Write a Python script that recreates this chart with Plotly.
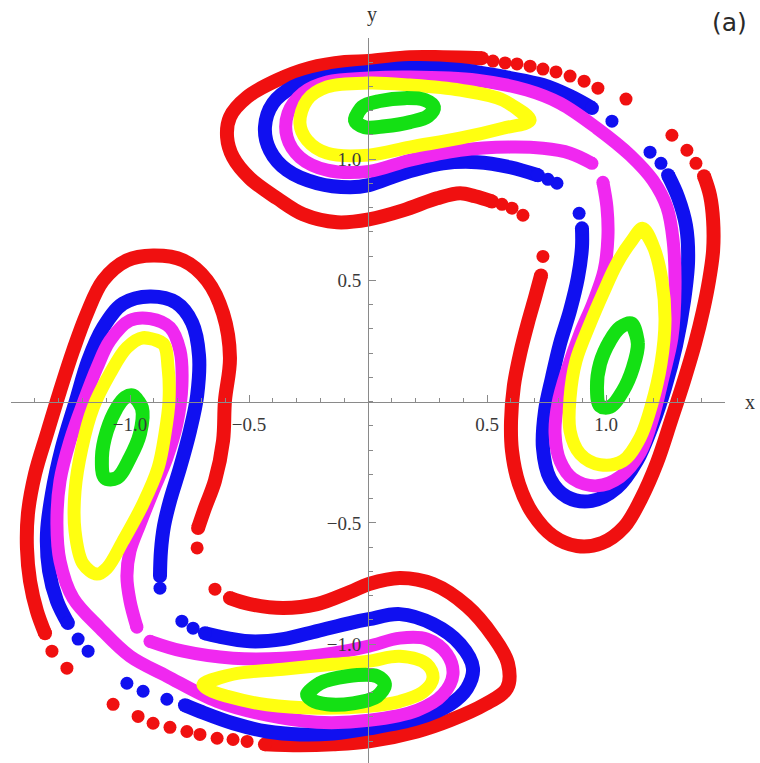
import plotly.graph_objects as go

# ---------------- axis settings ----------------
X_RANGE = [-1.5, 1.5]
Y_RANGE = [-1.49, 1.5]
TICK_VALS = [-1.0, -0.5, 0.5, 1.0]
TICK_TEXT = ["\u22121.0", "\u22120.5", "0.5", "1.0"]

RED = "#f01010"
BLUE = "#1010f0"
MAGENTA = "#f028f0"
YELLOW = "#ffff10"
GREEN = "#14e014"

# ---------------- upper / right chain ----------------
red_tr_arm_x = [1.412, 1.437, 1.450, 1.450, 1.433, 1.408, 1.374, 1.328, 1.273, 1.214, 1.147, 1.076, 0.983, 0.878, 0.777, 0.693, 0.634, 0.605, 0.601, 0.613, 0.639, 0.672, 0.702, 0.727]
red_tr_arm_y = [0.930, 0.851, 0.748, 0.624, 0.500, 0.376, 0.240, 0.087, -0.079, -0.252, -0.401, -0.517, -0.583, -0.595, -0.554, -0.463, -0.339, -0.202, -0.079, 0.066, 0.198, 0.326, 0.430, 0.521]
red_tr_arc_x = [0.521, 0.450, 0.387, 0.290, 0.147, 0.004, -0.130, -0.273, -0.382, -0.496, -0.567, -0.592, -0.580, -0.508, -0.382, -0.244, -0.097, 0.004, 0.176, 0.315, 0.479]
red_tr_arc_y = [0.826, 0.847, 0.860, 0.839, 0.789, 0.752, 0.740, 0.773, 0.839, 0.921, 1.008, 1.091, 1.174, 1.256, 1.326, 1.376, 1.401, 1.405, 1.421, 1.421, 1.417]
red_tr_dots_x = [0.525, 0.576, 0.626, 0.681, 0.735, 0.790, 0.849, 0.908, 0.966, 1.084, 1.277, 1.340, 1.378, 0.735, 0.651, 0.605, 0.563]
red_tr_dots_y = [1.405, 1.397, 1.393, 1.384, 1.372, 1.360, 1.343, 1.322, 1.293, 1.248, 1.099, 1.037, 0.983, 0.599, 0.769, 0.798, 0.814]

blue_tr_arm_x = [1.261, 1.303, 1.336, 1.345, 1.328, 1.294, 1.248, 1.197, 1.130, 1.046, 0.941, 0.836, 0.765, 0.735, 0.744, 0.773, 0.807, 0.849, 0.882, 0.899, 0.899]
blue_tr_arm_y = [0.934, 0.843, 0.727, 0.583, 0.417, 0.231, 0.058, -0.091, -0.244, -0.355, -0.409, -0.393, -0.318, -0.190, -0.037, 0.099, 0.240, 0.376, 0.512, 0.636, 0.715]
blue_tr_arc_x = [0.714, 0.597, 0.458, 0.315, 0.147, 0.004, -0.076, -0.214, -0.340, -0.412, -0.433, -0.399, -0.315, -0.172, 0.004, 0.176, 0.387, 0.597, 0.735, 0.849, 0.941]
blue_tr_arc_y = [0.934, 0.967, 0.988, 0.983, 0.942, 0.893, 0.884, 0.901, 0.955, 1.037, 1.132, 1.231, 1.298, 1.339, 1.360, 1.376, 1.368, 1.335, 1.306, 1.260, 1.211]
blue_tr_dots_x = [1.025, 1.185, 1.231, 0.887, 0.794, 0.756]
blue_tr_dots_y = [1.157, 1.029, 0.983, 0.777, 0.901, 0.917]

magenta_tr_x = [0.941, 0.849, 0.735, 0.597, 0.387, 0.176, 0.004, -0.172, -0.286, -0.340, -0.336, -0.273, -0.172, 0.004, 0.176, 0.458, 0.668, 0.807, 0.962, 1.101, 1.197, 1.256, 1.282, 1.290, 1.277, 1.239, 1.197, 1.143, 1.059, 0.962, 0.861, 0.807, 0.786, 0.798, 0.836, 0.891, 0.945, 0.992, 1.008, 1.004, 0.987]
magenta_tr_y = [0.983, 1.025, 1.045, 1.050, 1.037, 0.996, 0.950, 0.955, 1.008, 1.091, 1.190, 1.273, 1.318, 1.335, 1.339, 1.326, 1.285, 1.231, 1.128, 1.017, 0.913, 0.802, 0.665, 0.471, 0.264, 0.099, -0.066, -0.211, -0.310, -0.347, -0.318, -0.244, -0.132, -0.008, 0.128, 0.281, 0.405, 0.541, 0.678, 0.802, 0.905]

yellow_top_x = [0.681, 0.567, 0.387, 0.176, 0.004, -0.172, -0.256, -0.286, -0.256, -0.172, 0.004, 0.176, 0.387, 0.567]
yellow_top_y = [1.161, 1.244, 1.285, 1.306, 1.314, 1.298, 1.244, 1.149, 1.079, 1.025, 1.017, 1.050, 1.087, 1.128]
yellow_right_x = [1.155, 1.202, 1.235, 1.248, 1.231, 1.193, 1.143, 1.071, 0.975, 0.891, 0.849, 0.849, 0.874, 0.933, 0.987, 1.046, 1.109]
yellow_right_y = [0.715, 0.632, 0.500, 0.335, 0.157, -0.008, -0.149, -0.244, -0.260, -0.215, -0.120, 0.017, 0.169, 0.322, 0.446, 0.570, 0.665]

green_top_x = [-0.055, -0.025, 0.050, 0.155, 0.239, 0.277, 0.252, 0.176, 0.071, -0.013]
green_top_y = [1.161, 1.215, 1.240, 1.252, 1.244, 1.215, 1.178, 1.153, 1.136, 1.132]
green_right_x = [1.109, 1.134, 1.113, 1.071, 1.017, 0.975, 0.962, 0.975, 1.017, 1.059]
green_right_y = [0.322, 0.240, 0.140, 0.045, -0.021, -0.017, 0.058, 0.157, 0.252, 0.306]

# ---------------- left / lower chain ----------------
red_bl_arm_x = [-0.714, -0.685, -0.643, -0.609, -0.601, -0.580, -0.609, -0.676, -0.777, -0.903, -1.013, -1.113, -1.181, -1.239, -1.294, -1.349, -1.399, -1.429, -1.433, -1.420, -1.391, -1.357]
red_bl_arm_y = [-0.521, -0.438, -0.326, -0.161, 0.004, 0.182, 0.364, 0.500, 0.583, 0.603, 0.583, 0.500, 0.364, 0.211, 0.045, -0.132, -0.298, -0.463, -0.603, -0.740, -0.864, -0.955]
red_bl_arc_x = [-0.580, -0.496, -0.357, -0.214, -0.076, 0.004, 0.134, 0.273, 0.416, 0.525, 0.588, 0.584, 0.492, 0.345, 0.206, 0.004, -0.147, -0.286, -0.433]
red_bl_arc_y = [-0.810, -0.835, -0.851, -0.835, -0.785, -0.752, -0.727, -0.752, -0.843, -0.967, -1.079, -1.182, -1.248, -1.314, -1.360, -1.401, -1.413, -1.417, -1.413]
red_bl_dots_x = [-1.328, -1.265, -1.071, -0.966, -0.903, -0.832, -0.761, -0.706, -0.634, -0.567, -0.508, -0.718, -0.643]
red_bl_dots_y = [-1.029, -1.099, -1.248, -1.298, -1.326, -1.343, -1.360, -1.372, -1.388, -1.393, -1.401, -0.603, -0.773]

blue_bl_arm_x = [-0.874, -0.870, -0.857, -0.832, -0.790, -0.748, -0.718, -0.710, -0.739, -0.807, -0.916, -1.029, -1.113, -1.176, -1.227, -1.286, -1.328, -1.349, -1.340, -1.307, -1.261]
blue_bl_arm_y = [-0.719, -0.616, -0.512, -0.409, -0.273, -0.120, 0.025, 0.190, 0.326, 0.409, 0.434, 0.405, 0.306, 0.169, 0.004, -0.190, -0.380, -0.545, -0.698, -0.822, -0.913]
blue_bl_arc_x = [-0.685, -0.634, -0.496, -0.357, -0.214, -0.076, 0.004, 0.134, 0.273, 0.387, 0.441, 0.416, 0.345, 0.206, 0.004, -0.147, -0.286, -0.424, -0.567, -0.706, -0.769]
blue_bl_arc_y = [-0.955, -0.967, -0.988, -0.979, -0.946, -0.913, -0.897, -0.876, -0.917, -1.000, -1.099, -1.182, -1.248, -1.306, -1.347, -1.368, -1.372, -1.360, -1.326, -1.277, -1.252]
blue_bl_dots_x = [-0.874, -1.218, -1.176, -1.013, -0.945, -0.845, -0.782, -0.735]
blue_bl_dots_y = [-0.769, -0.979, -1.029, -1.161, -1.194, -1.227, -0.905, -0.934]

magenta_bl_x = [-0.971, -1.000, -1.013, -1.000, -0.958, -0.903, -0.845, -0.803, -0.782, -0.790, -0.832, -0.916, -1.000, -1.084, -1.139, -1.193, -1.252, -1.294, -1.307, -1.294, -1.239, -1.126, -1.000, -0.845, -0.634, -0.424, -0.214, 0.004, 0.206, 0.315, 0.357, 0.332, 0.248, 0.134, 0.004, -0.147, -0.357, -0.567, -0.777, -0.916]
magenta_bl_y = [-0.930, -0.822, -0.719, -0.616, -0.504, -0.368, -0.231, -0.091, 0.066, 0.211, 0.306, 0.343, 0.335, 0.252, 0.140, 0.004, -0.161, -0.326, -0.504, -0.657, -0.810, -0.934, -1.050, -1.132, -1.236, -1.293, -1.322, -1.314, -1.273, -1.207, -1.124, -1.041, -0.979, -0.975, -1.008, -1.037, -1.058, -1.058, -1.029, -0.988]

yellow_left_x = [-0.945, -0.861, -0.840, -0.836, -0.853, -0.882, -0.945, -1.029, -1.097, -1.139, -1.197, -1.231, -1.231, -1.202, -1.155, -1.084, -1.013]
yellow_left_y = [0.264, 0.240, 0.140, 0.004, -0.132, -0.273, -0.421, -0.574, -0.686, -0.711, -0.669, -0.533, -0.368, -0.190, -0.025, 0.116, 0.223]
yellow_bottom_x = [-0.693, -0.567, -0.357, -0.147, 0.004, 0.134, 0.248, 0.273, 0.231, 0.134, 0.004, -0.214, -0.424, -0.592, -0.664]
yellow_bottom_y = [-1.165, -1.124, -1.103, -1.083, -1.070, -1.050, -1.083, -1.140, -1.198, -1.236, -1.256, -1.264, -1.250, -1.215, -1.190]

green_left_x = [-0.987, -0.950, -0.958, -1.000, -1.055, -1.105, -1.118, -1.097, -1.055, -1.021]
green_left_y = [0.025, -0.025, -0.132, -0.231, -0.314, -0.314, -0.231, -0.120, -0.025, 0.017]
green_bottom_x = [-0.256, -0.202, -0.088, 0.038, 0.071, 0.038, -0.063, -0.172, -0.235]
green_bottom_y = [-1.207, -1.161, -1.132, -1.132, -1.165, -1.215, -1.244, -1.248, -1.231]

DOT_SIZE = 13

fig = go.Figure()


def open_band(xs, ys, color, width):
    """Thick smooth strand of densely packed section points, rounded at its ends."""
    fig.add_trace(go.Scatter(x=xs, y=ys, mode="lines",
                             line=dict(color=color, width=width, shape="spline", smoothing=1.0),
                             hoverinfo="skip"))
    fig.add_trace(go.Scatter(x=[xs[0], xs[-1]], y=[ys[0], ys[-1]], mode="markers",
                             marker=dict(color=color, size=width, line=dict(width=0)),
                             hoverinfo="skip"))


def closed_band(xs, ys, color, width):
    fig.add_trace(go.Scatter(x=xs + xs[:2], y=ys + ys[:2], mode="lines",
                             line=dict(color=color, width=width, shape="spline", smoothing=1.0),
                             hoverinfo="skip"))


def dots(xs, ys, color):
    fig.add_trace(go.Scatter(x=xs, y=ys, mode="markers",
                             marker=dict(color=color, size=DOT_SIZE, line=dict(width=0)),
                             hoverinfo="skip"))


# outermost orbits first
open_band(red_tr_arm_x, red_tr_arm_y, RED, 14)
open_band(red_tr_arc_x, red_tr_arc_y, RED, 14)
dots(red_tr_dots_x, red_tr_dots_y, RED)
open_band(red_bl_arm_x, red_bl_arm_y, RED, 14)
open_band(red_bl_arc_x, red_bl_arc_y, RED, 14)
dots(red_bl_dots_x, red_bl_dots_y, RED)

open_band(blue_tr_arm_x, blue_tr_arm_y, BLUE, 14)
open_band(blue_tr_arc_x, blue_tr_arc_y, BLUE, 14)
dots(blue_tr_dots_x, blue_tr_dots_y, BLUE)
open_band(blue_bl_arm_x, blue_bl_arm_y, BLUE, 14)
open_band(blue_bl_arc_x, blue_bl_arc_y, BLUE, 14)
dots(blue_bl_dots_x, blue_bl_dots_y, BLUE)

open_band(magenta_tr_x, magenta_tr_y, MAGENTA, 13)
open_band(magenta_bl_x, magenta_bl_y, MAGENTA, 13)

closed_band(yellow_top_x, yellow_top_y, YELLOW, 13)
closed_band(yellow_right_x, yellow_right_y, YELLOW, 13)
closed_band(yellow_left_x, yellow_left_y, YELLOW, 13)
closed_band(yellow_bottom_x, yellow_bottom_y, YELLOW, 13)

closed_band(green_top_x, green_top_y, GREEN, 14)
closed_band(green_right_x, green_right_y, GREEN, 14)
closed_band(green_left_x, green_left_y, GREEN, 14)
closed_band(green_bottom_x, green_bottom_y, GREEN, 14)

AXIS_COLOR = "#8a8a8a"
TICK_FONT = dict(family="Liberation Serif", size=19, color="#3a3a3a")

# axes cross at the origin
x_axis_pos = (0 - Y_RANGE[0]) / (Y_RANGE[1] - Y_RANGE[0])
y_axis_pos = (0 - X_RANGE[0]) / (X_RANGE[1] - X_RANGE[0])

fig.update_xaxes(range=X_RANGE, anchor="free", position=x_axis_pos, side="bottom",
                 showline=True, linecolor=AXIS_COLOR, linewidth=1,
                 showgrid=False, zeroline=False, automargin=False,
                 tickmode="array", tickvals=TICK_VALS, ticktext=TICK_TEXT,
                 ticks="inside", ticklen=7, tickwidth=1, tickcolor=AXIS_COLOR,
                 tickfont=TICK_FONT, ticklabelstandoff=5,
                 minor=dict(ticks="inside", dtick=0.1, tick0=0, ticklen=4,
                            tickwidth=1, tickcolor=AXIS_COLOR, showgrid=False))
fig.update_yaxes(range=Y_RANGE, anchor="free", position=y_axis_pos, side="left",
                 showline=True, linecolor=AXIS_COLOR, linewidth=1,
                 showgrid=False, zeroline=False, automargin=False,
                 tickmode="array", tickvals=TICK_VALS, ticktext=TICK_TEXT,
                 ticks="inside", ticklen=7, tickwidth=1, tickcolor=AXIS_COLOR,
                 tickfont=TICK_FONT, ticklabelstandoff=3,
                 minor=dict(ticks="inside", dtick=0.1, tick0=0, ticklen=4,
                            tickwidth=1, tickcolor=AXIS_COLOR, showgrid=False))

fig.add_annotation(text="x", x=1.035, y=x_axis_pos, xref="paper", yref="paper",
                   xanchor="center", yanchor="middle", showarrow=False,
                   font=dict(family="Liberation Serif", size=20, color="#333333"))
fig.add_annotation(text="y", x=y_axis_pos + 0.006, y=1.033, xref="paper", yref="paper",
                   xanchor="center", yanchor="middle", showarrow=False,
                   font=dict(family="Liberation Serif", size=20, color="#333333"))
fig.add_annotation(text="(a)", x=1.007, y=1.022, xref="paper", yref="paper",
                   xanchor="center", yanchor="middle", showarrow=False,
                   font=dict(family="DejaVu Sans", size=25, color="#2a2a2a"))

fig.update_layout(width=760, height=763, margin=dict(l=11, r=35, t=38, b=0),
                  paper_bgcolor="white", plot_bgcolor="white", showlegend=False)

fig.write_html("out.html")
